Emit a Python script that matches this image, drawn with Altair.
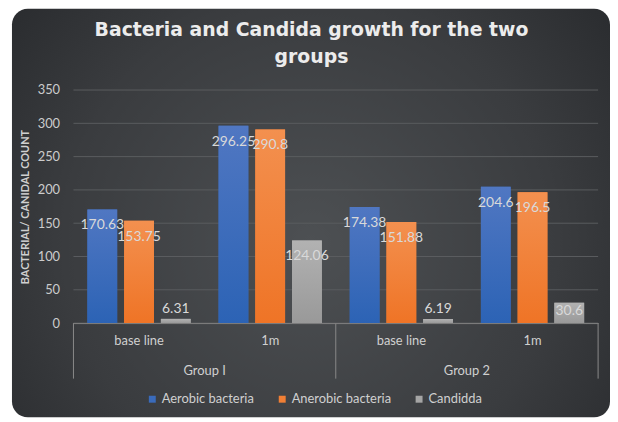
import altair as alt
import pandas as pd

# ---- data ----
groups = ["Group I", "Group I", "Group 2", "Group 2"]
times = ["base line", "1m", "base line", "1m"]
series = ["Aerobic bacteria", "Anerobic bacteria", "Candidda"]
aerobic = [170.63, 296.25, 174.38, 204.6]
anaerobic = [153.75, 290.8, 151.88, 196.5]
candida = [6.31, 124.06, 6.19, 30.6]
y_ticks = [0, 50, 100, 150, 200, 250, 300, 350]
title_lines = ["Bacteria and Candida growth for the two", "groups"]

colors = ["#3a6bbb", "#f07f35", "#a5a5a5"]
grad_stops = [("#5077c2", "#2c63b5"), ("#f3904f", "#ef7426"), ("#b2b2b2", "#999999")]

keys = [g + "|" + t for g, t in zip(groups, times)]
rows = []
for vals, s in zip([aerobic, anaerobic, candida], series):
    for k, g, t, v in zip(keys, groups, times, vals):
        rows.append({"key": k, "group": g, "time": t, "series": s, "value": v})
df = pd.DataFrame(rows)

W, H = 529, 235
FONT = "Lato"

x_enc = alt.X("key:N", scale=alt.Scale(domain=keys, paddingInner=0, paddingOuter=0),
              axis=alt.Axis(title=None, labelExpr="split(datum.value, '|')[1]",
                            labelColor="#d0d0d0", labelFont=FONT, labelFontSize=13,
                            labelPadding=12, labelAngle=0, ticks=False, zindex=1,
                            domainColor="#808080", domainWidth=1, grid=False))
xo_enc = alt.XOffset("series:N", scale=alt.Scale(domain=series, paddingInner=0.19, paddingOuter=0.38))
y_enc = alt.Y("value:Q", scale=alt.Scale(domain=[0, 350], nice=False),
              axis=alt.Axis(values=y_ticks, title="BACTERIAL/ CANIDAL COUNT",
                            titleFont=FONT, titleFontSize=11, titleFontWeight="bold",
                            titleColor="#d0d0d0", titleX=-48, titleBaseline="middle",
                            labelColor="#cccccc", labelFont=FONT, labelFontSize=13,
                            labelPadding=14, labelOverlap=False, ticks=False, domain=False,
                            zindex=1, grid=False))

# card background
card = alt.Chart(pd.DataFrame({"c": [0]})).mark_rect(
    cornerRadius=16,
    color=alt.RadialGradient(
        gradient="radial", x1=0.5, y1=0.55, r1=0, x2=0.5, y2=0.55, r2=0.75,
        stops=[alt.GradientStop(color="#4d5053", offset=0),
               alt.GradientStop(color="#3a3c3f", offset=0.55),
               alt.GradientStop(color="#222427", offset=1)]),
).encode(x=alt.value(-62), x2=alt.value(541), y=alt.value(-82), y2=alt.value(330))

# horizontal gridlines (behind the bars)
grid = alt.Chart(pd.DataFrame({"value": y_ticks})).mark_rule(color="#5a5c5f", strokeWidth=1).encode(
    y=y_enc, x=alt.value(0), x2=alt.value(W))

title = alt.Chart(pd.DataFrame({"c": [0]})).mark_text(
    font="DejaVu Sans", fontSize=19, fontWeight="bold", color="#ececec",
    align="center", baseline="top", lineHeight=27,
).encode(x=alt.value(240), y=alt.value(-69), text=alt.value(title_lines))

base = alt.Chart(df)

bars = base.mark_bar().encode(
    x=x_enc, xOffset=xo_enc, y=y_enc,
    color=alt.Color("series:N", scale=alt.Scale(domain=series, range=colors),
                    legend=alt.Legend(title=None, orient="none", direction="horizontal",
                                      legendX=73, legendY=305, symbolType="square",
                                      symbolSize=49, symbolStrokeWidth=0,
                                      labelFont=FONT, labelFontSize=13, labelColor="#d0d0d0",
                                      labelOffset=3, columnPadding=21)),
)

grad_layers = []
for s, (top, bot) in zip(series, grad_stops):
    grad_layers.append(
        base.transform_filter(alt.datum.series == s).mark_bar(
            color=alt.LinearGradient(gradient="linear", x1=0, y1=0, x2=0, y2=1,
                                     stops=[alt.GradientStop(color=top, offset=0),
                                            alt.GradientStop(color=bot, offset=1)])
        ).encode(x=x_enc, xOffset=xo_enc, y=y_enc)
    )

lab_style = dict(font=FONT, fontSize=14, color="#d9d9d9", baseline="middle")
labels_in = base.transform_filter(alt.datum.value >= 40).mark_text(dy=16, **lab_style).encode(
    x=x_enc, xOffset=xo_enc, y=y_enc, text="value:Q")
labels_mid = base.transform_filter((alt.datum.value >= 10) & (alt.datum.value < 40)).mark_text(
    dy=8, **lab_style).encode(x=x_enc, xOffset=xo_enc, y=y_enc, text="value:Q")
labels_out = base.transform_filter(alt.datum.value < 10).mark_text(dy=-10, **lab_style).encode(
    x=x_enc, xOffset=xo_enc, y=y_enc, text="value:Q")

# group separators and group labels
sep_left = pd.DataFrame({"key": [keys[0], keys[2]]})
sep_right = pd.DataFrame({"key": [keys[3]]})
grp = pd.DataFrame({"key": [keys[1], keys[3]], "group": [groups[1], groups[3]]})

rule_style = dict(color="#8a8a8a", strokeWidth=1)
sep1 = alt.Chart(sep_left).mark_rule(**rule_style).encode(
    x=alt.X("key:N", bandPosition=0), y=alt.value(235), y2=alt.value(291))
sep2 = alt.Chart(sep_right).mark_rule(**rule_style).encode(
    x=alt.X("key:N", bandPosition=1), y=alt.value(235), y2=alt.value(291))
grp_text = alt.Chart(grp).mark_text(font=FONT, fontSize=13, color="#d0d0d0", baseline="middle").encode(
    x=alt.X("key:N", bandPosition=0), y=alt.value(283), text="group:N")

chart = alt.layer(card, grid, title, bars, *grad_layers, labels_in, labels_mid, labels_out,
                  sep1, sep2, grp_text).properties(
    width=W, height=H,
    autosize=alt.AutoSizeParams(type="none"),
    padding={"left": 66, "top": 81, "right": 12, "bottom": 95},
    background="white",
).configure_view(stroke=None)

chart.save("out.html", embed_options={"renderer": "svg", "actions": False})
